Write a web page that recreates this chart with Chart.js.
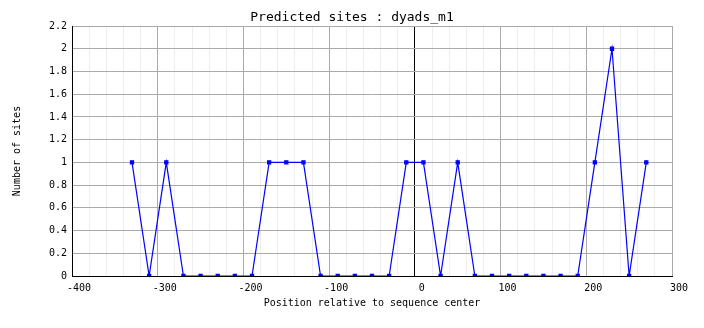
<!DOCTYPE html>
<html>
<head>
<meta charset="utf-8">
<title>Predicted sites : dyads_m1</title>
<script src="https://cdn.jsdelivr.net/npm/chart.js@4/dist/chart.umd.min.js"></script>
<style>
  html, body { margin: 0; padding: 0; background: #fff; }
  canvas { display: block; }
</style>
</head>
<body>
<canvas id="chart" width="704" height="328"></canvas>
<script>
// positions (relative to sequence center) and site counts
const positions = [-330, -310, -290, -270, -250, -230, -210, -190, -170, -150,
                   -130, -110, -90, -70, -50, -30, -10, 10, 30, 50,
                   70, 90, 110, 130, 150, 170, 190, 210, 230, 250, 270];
const siteCounts = [1, 0, 1, 0, 0, 0, 0, 0, 1, 1,
                    1, 0, 0, 0, 0, 0, 1, 1, 0, 1,
                    0, 0, 0, 0, 0, 0, 0, 1, 2, 0, 1];

const MONO = '"DejaVu Sans Mono", "Liberation Mono", monospace';

const points = positions.map((p, i) => ({ x: p, y: siteCounts[i] }));

new Chart(document.getElementById('chart').getContext('2d'), {
  type: 'line',
  data: {
    datasets: [{
      label: 'dyads_m1',
      data: points,
      borderColor: '#0000ff',
      backgroundColor: '#0000ff',
      borderWidth: 1.2,
      pointStyle: 'rect',
      pointRadius: 2.2,
      pointHoverRadius: 2.2,
      tension: 0,
      fill: false,
    }],
  },
  options: {
    responsive: false,
    animation: false,
    events: [],
    layout: { padding: 0 },
    plugins: {
      legend: { display: false },
      tooltip: { enabled: false },
      title: {
        display: true,
        text: 'Predicted sites : dyads_m1',
        color: '#000',
        font: { family: MONO, size: 13, weight: 'normal' },
        padding: { top: 10.2, bottom: 0.2 },
      },
    },
    scales: {
      x: {
        type: 'linear',
        min: -400,
        max: 300,
        afterFit: (s) => { s.height = 52; },
        border: { color: '#000', width: 1 },
        grid: {
          drawTicks: false,
          lineWidth: 1,
          color: (c) => {
            const v = c.tick ? c.tick.value : null;
            if (v === 0) return '#000';
            return v % 100 === 0 ? '#aaaaaa' : '#eeeeee';
          },
        },
        ticks: {
          stepSize: 20,
          autoSkip: false,
          maxRotation: 0,
          padding: 6,
          labelOffset: 7,
          color: '#000',
          font: { family: MONO, size: 10 },
          callback: (v) => (v % 100 === 0 ? String(v) : ''),
        },
        title: {
          display: true,
          text: 'Position relative to sequence center',
          color: '#000',
          font: { family: MONO, size: 10 },
          padding: { top: 0, bottom: 19 },
        },
      },
      y: {
        type: 'linear',
        min: 0,
        max: 2.2,
        afterFit: (s) => { s.width = 72; },
        border: { color: '#000', width: 1 },
        grid: { drawTicks: false, color: '#aaaaaa', lineWidth: 1 },
        ticks: {
          stepSize: 0.2,
          padding: 5,
          color: '#000',
          font: { family: MONO, size: 10 },
          callback: (v) => String(parseFloat(Number(v).toFixed(1))),
        },
        title: {
          display: true,
          text: 'Number of sites',
          color: '#000',
          font: { family: MONO, size: 10 },
          padding: { top: 11.5, bottom: 0 },
        },
      },
      // empty right-hand axis only to keep the 32px margin while the title stays centred on the canvas
      yRight: {
        position: 'right',
        display: true,
        afterFit: (s) => { s.width = 32; },
        border: { display: false },
        grid: { display: false, drawOnChartArea: false },
        ticks: { display: false },
      },
    },
  },
});
</script>
</body>
</html>
